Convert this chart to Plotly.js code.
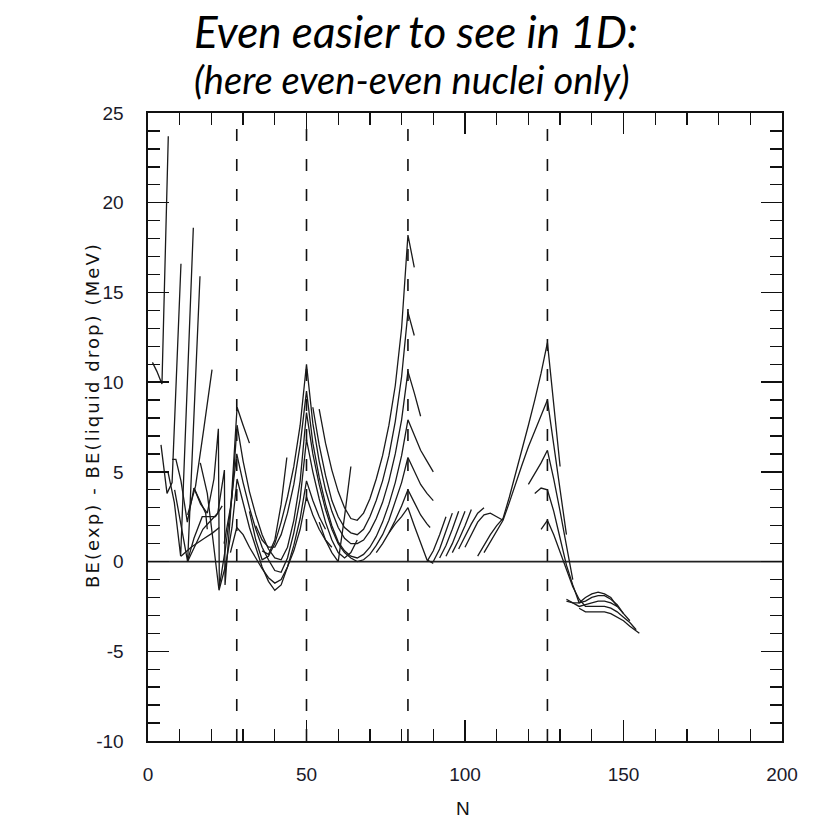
<!DOCTYPE html>
<html><head><meta charset="utf-8">
<script src="https://cdn.plot.ly/plotly-3.0.1.min.js"></script>
<style>body{margin:0;background:#fff}#chart{width:818px;height:824px}</style>
</head><body><div id="chart"></div>
<script>
// Magic numbers (dashed lines) and axis ticks
const magicN = [28, 50, 82, 126];
const xTickVals = [0, 50, 100, 150, 200];
const xTickText = ['0', '50', '100', '150', '200'];
const yTickVals = [-10, -5, 0, 5, 10, 15, 20, 25];
const yTickText = ['-10', '-5', '0', '5', '10', '15', '20', '25'];

// Light nuclei chains
const c01N = [1.4, 2.8, 4.4, 6.4];           const c01BE = [11.1, 10.6, 9.9, 23.7];
const c02N = [4.1, 6.0, 7.6, 10.4];          const c02BE = [6.5, 3.8, 4.4, 16.6];
const c03N = [6.3, 8.3, 10.3, 14.3];         const c03BE = [5.0, 3.3, 0.3, 18.6];
const c04N = [8.4, 10.4, 12.5, 16.4];        const c04BE = [4.0, 2.0, 0.0, 15.9];
const c05N = [10.4, 13.6, 17.8, 20.4, 22.5]; const c05BE = [0.3, 0.8, 1.3, 1.6, 1.9];
const c07N = [12.5, 15.0, 17.6, 20.2];       const c07BE = [2.6, 4.2, 7.4, 10.7];
const x1N = [7.6, 8.8, 10.4, 12.4, 14.5, 16.5, 18.2, 18.7]; const x1BE = [5.7, 5.7, 4.5, 2.2, 4.1, 3.3, 2.7, 1.8];
const x2N = [12.4, 14.5, 17.1, 19.2, 21.3, 23.4];           const x2BE = [0.0, 1.3, 2.5, 2.5, 2.5, 3.1];

// N = 20..50 region
const a1N = [12.5, 14.6, 17.3, 19.9, 22.0, 24.1, 24.3, 26.0, 28.1, 30.0, 32.0];
const a1BE = [0.0, 0.8, 1.8, 2.3, 2.7, 5.1, -1.3, 2.6, 8.6, 7.6, 6.6];
const a2N = [14.5, 16.6, 18.7, 20.8, 22.2, 22.5, 24.5, 26.5, 28.1, 30, 32, 34, 36, 38, 40, 42, 44, 46, 48, 50,
             52, 54, 56, 58, 60, 62, 64, 66, 68, 70, 72, 74, 76, 78, 80, 82, 84, 86, 88, 90];
const a2BE = [4.1, 3.2, 2.7, 4.6, 7.4, -1.4, 0.8, 3.6, 7.6, 5.6, 3.9, 2.6, 1.5, 0.7, 0.2, 0.1, 0.8, 2.3, 4.5, 8.3,
              6.0, 4.3, 2.9, 1.8, 1.0, 0.5, 0.2, 0.0, 0.1, 0.4, 0.9, 1.5, 2.3, 3.3, 4.4, 5.8, 5.0, 4.3, 3.8, 3.4];
const a3N = [16.5, 18.7, 20.5, 22.4, 24.5, 26.5, 28.1, 30, 32, 34, 36, 38, 40, 42, 44, 46, 48, 50, 52, 54, 56];
const a3BE = [5.5, 3.8, 1.2, -1.6, -0.2, 1.9, 4.6, 3.3, 1.9, 0.8, -0.3, -1.1, -1.6, -1.3, -0.3, 0.9, 2.4, 4.5, 3.4, 2.5, 1.8];
const a4N = [26, 28, 30, 32, 34, 36, 38, 40, 42, 44, 46, 48, 50, 52, 54, 56, 58];
const a4BE = [0.5, 1.9, 1.5, 0.8, 0.2, -0.4, -0.9, -1.2, -1.0, -0.3, 0.6, 1.8, 3.6, 2.6, 1.8, 1.2, 0.8];
const a5N = [24, 26, 28, 30, 32, 34, 36, 38, 40, 42, 44, 46, 48, 50, 52, 54, 56, 58, 60, 62, 64, 66];
const a5BE = [1.0, 3.0, 6.0, 4.4, 3.0, 1.8, 0.8, 0.1, -0.5, -0.6, 0.2, 1.6, 3.5, 6.8, 5.0, 3.5, 2.2, 1.2, 0.5, 0.2, 0.5, 1.2];
const a7N = [36, 38, 40, 42, 43.8];          const a7BE = [0.6, 0.4, 1.2, 3.2, 5.8];
const n1N = [54, 56, 58, 60, 62, 64];        const n1BE = [2.2, 1.2, 0.5, 0.0, 2.5, 5.3];

// N = 50..90 region (chains rising to N = 82)
const s1N = [54, 56, 58, 60, 62, 64, 66, 68, 70, 72, 74, 76, 78, 80, 82, 84];
const s1BE = [8.5, 6.6, 5.1, 3.9, 3.0, 2.4, 2.3, 2.7, 3.5, 4.6, 5.9, 7.6, 9.8, 13.0, 18.2, 16.4];
const s2N = [52, 54, 56, 58, 60, 62, 64, 66, 68, 70, 72, 74, 76, 78, 80, 82, 84];
const s2BE = [8.6, 6.5, 4.8, 3.4, 2.5, 1.9, 1.6, 1.5, 1.8, 2.5, 3.4, 4.5, 5.9, 7.8, 10.3, 13.9, 12.6];
const s3N = [32, 34, 36, 38, 40, 42, 44, 46, 48, 50, 52, 54, 56, 58, 60, 62, 64, 66, 68, 70, 72, 74, 76, 78, 80, 82, 84, 86];
const s3BE = [2.8, 1.2, 0.1, 0.3, 1.0, 2.2, 3.6, 5.3, 7.6, 11.0, 7.7, 5.6, 4.0, 2.8, 1.9, 1.3, 1.0, 1.0, 1.2, 1.7, 2.4, 3.3, 4.5, 6.0, 7.9, 10.6, 9.4, 8.1];
const s4N = [34, 36, 38, 40, 42, 44, 46, 48, 50, 52, 54, 56, 58, 60, 62, 64, 66, 68, 70, 72, 74, 76, 78, 80, 82, 84, 86, 88, 90];
const s4BE = [2.0, 1.2, 0.8, 0.8, 1.5, 2.7, 4.3, 6.5, 9.5, 6.6, 4.7, 3.2, 2.0, 1.1, 0.6, 0.3, 0.2, 0.4, 0.8, 1.4, 2.2, 3.2, 4.4, 5.9, 7.9, 7.0, 6.2, 5.6, 5.0];
const s6N = [72, 74, 76, 78, 80, 82, 84, 86, 88, 89];
const s6BE = [0.5, 1.0, 1.6, 2.3, 3.1, 4.0, 3.3, 2.6, 2.1, 1.9];
const s7N = [76, 78, 80, 82, 84, 86, 88, 90];
const s7BE = [1.6, 2.1, 2.5, 3.0, 2.0, 1.0, 0.1, -0.1];

// Ladder N = 88..112
const r1N = [88, 90, 92, 94];        const r1BE = [0.0, 0.6, 1.5, 2.5];
const r2N = [90, 92, 94, 96];        const r2BE = [0.0, 0.7, 1.7, 2.7];
const r3N = [92, 94, 96, 98];        const r3BE = [0.2, 0.9, 1.8, 2.8];
const r4N = [94, 96, 98, 100];       const r4BE = [0.3, 1.0, 1.9, 2.8];
const r5N = [96, 98, 100, 102];      const r5BE = [0.5, 1.2, 2.0, 2.9];
const r6N = [98, 100, 102, 104, 106]; const r6BE = [0.7, 1.4, 2.1, 2.7, 3.0];
const r7N = [100, 102, 104, 106, 108, 110, 112]; const r7BE = [0.8, 1.5, 2.2, 2.6, 2.7, 2.5, 2.3];

// Chains rising to N = 126
const p1N = [104, 106, 108, 110, 112, 114, 116, 118, 120, 122, 124, 126, 128, 130];
const p1BE = [0.3, 0.9, 1.5, 2.0, 2.4, 3.6, 4.9, 6.3, 7.6, 9.0, 10.5, 12.2, 8.6, 5.3];
const p2N = [106, 108, 110, 112, 114, 116, 118, 120, 122, 124, 126, 128, 130, 132];
const p2BE = [0.5, 1.1, 1.7, 2.3, 3.3, 4.4, 5.4, 6.4, 7.3, 8.2, 9.0, 6.5, 4.0, 1.5];
const p3N = [120, 122, 124, 126, 128, 130, 132, 134];
const p3BE = [4.3, 4.9, 5.5, 6.2, 4.6, 2.8, 0.9, -1.0];
const p4N = [122, 124, 126, 128, 130, 132, 134, 136, 138, 140, 142, 144, 146, 148, 150];
const p4BE = [3.8, 4.1, 4.0, 2.8, 1.3, -0.2, -1.3, -2.3, -2.2, -2.0, -1.9, -1.9, -2.1, -2.4, -2.9];
const p5N = [124, 126, 128, 130, 132, 134, 136, 138, 140, 142, 144, 146, 148, 150, 152, 154];
const p5BE = [1.8, 2.3, 1.5, 0.5, -0.5, -1.4, -2.1, -2.5, -2.5, -2.5, -2.5, -2.6, -2.8, -3.1, -3.4, -3.8];
const k1N = [132, 134, 136, 138, 140, 142, 144, 146, 148];
const k1BE = [-2.2, -2.3, -2.3, -2.0, -1.8, -1.7, -1.8, -2.0, -2.5];
const k2N = [132, 134, 136, 138, 140, 142, 144, 146, 148, 150, 152];
const k2BE = [-2.1, -2.3, -2.5, -2.4, -2.3, -2.2, -2.2, -2.3, -2.5, -2.9, -3.3];
const k3N = [136, 138, 140, 142, 144, 146, 148, 150, 152, 154, 155];
const k3BE = [-2.6, -2.8, -2.8, -2.8, -2.8, -2.9, -3.1, -3.3, -3.6, -3.9, -4.0];

const chains = [
  [c01N, c01BE], [c02N, c02BE], [c03N, c03BE], [c04N, c04BE], [c05N, c05BE], [c07N, c07BE],
  [x1N, x1BE], [x2N, x2BE],
  [a1N, a1BE], [a2N, a2BE], [a3N, a3BE], [a4N, a4BE], [a5N, a5BE], [a7N, a7BE], [n1N, n1BE],
  [s1N, s1BE], [s2N, s2BE], [s3N, s3BE], [s4N, s4BE], [s6N, s6BE], [s7N, s7BE],
  [r1N, r1BE], [r2N, r2BE], [r3N, r3BE], [r4N, r4BE], [r5N, r5BE], [r6N, r6BE], [r7N, r7BE],
  [p1N, p1BE], [p2N, p2BE], [p3N, p3BE], [p4N, p4BE], [p5N, p5BE],
  [k1N, k1BE], [k2N, k2BE], [k3N, k3BE]
];

const traces = chains.map(([xs, ys]) => ({
  type: 'scatter', mode: 'lines', x: xs, y: ys,
  line: {color: '#1a1a1a', width: 1.3}, hoverinfo: 'skip', showlegend: false
}));

const shapes = magicN.map(n => ({
  type: 'line', xref: 'x', yref: 'y', x0: n, x1: n, y0: -10, y1: 25,
  line: {color: '#111', width: 1.6, dash: '12px,18px'}, layer: 'below'
}));
shapes.push({type: 'line', xref: 'paper', yref: 'y', x0: 0, x1: 1, y0: 0, y1: 0,
  line: {color: '#222', width: 1.8}, layer: 'below'});

const sans = 'Liberation Sans, Arial, sans-serif';
const axisFont = {family: sans, size: 19, color: '#1a1a2a'};

const layout = {
  width: 818, height: 824,
  margin: {l: 148, r: 36, t: 113, b: 83},
  paper_bgcolor: '#fff', plot_bgcolor: '#fff',
  showlegend: false,
  xaxis: {
    range: [0, 200], tickvals: xTickVals, ticktext: xTickText, ticks: 'inside', ticklen: 21, tickwidth: 1.4, tickcolor: '#111',
    showline: true, linecolor: '#111', linewidth: 1.6, mirror: 'allticks', ticklabelstandoff: 16,
    showgrid: false, zeroline: false, tickfont: axisFont,
    minor: {dtick: 10, ticks: 'inside', ticklen: 12, tickwidth: 1.4, tickcolor: '#111', showgrid: false}
  },
  yaxis: {
    range: [-10, 25], tickvals: yTickVals, ticktext: yTickText, ticks: 'inside', ticklen: 21, tickwidth: 1.4, tickcolor: '#111',
    showline: true, linecolor: '#111', linewidth: 1.6, mirror: 'allticks', ticklabelstandoff: 19,
    showgrid: false, zeroline: false, tickfont: axisFont,
    minor: {dtick: 1, ticks: 'inside', ticklen: 12, tickwidth: 1.4, tickcolor: '#111', showgrid: false}
  },
  shapes: shapes,
  annotations: [
    {text: '<i>Even easier to see in 1D:</i>', xref: 'paper', yref: 'paper', x: 0.422, y: 1.131,
     xanchor: 'center', yanchor: 'middle', showarrow: false,
     font: {family: 'Lato, Open Sans, sans-serif', size: 44, color: '#000'}},
    {text: '<i>(here even-even nuclei only)</i>', xref: 'paper', yref: 'paper', x: 0.416, y: 1.054,
     xanchor: 'center', yanchor: 'middle', showarrow: false,
     font: {family: 'Lato, Open Sans, sans-serif', size: 38, color: '#000'}},
    {text: '<span style="letter-spacing:2.1px">BE(exp) - BE(liquid drop) (MeV)</span>', xref: 'paper', yref: 'paper', x: -0.0885, y: 0.519,
     xanchor: 'center', yanchor: 'middle', showarrow: false, textangle: -90,
     font: {family: 'DejaVu Sans, sans-serif', size: 18, color: '#111'}},
    {text: 'N', xref: 'paper', yref: 'paper', x: 0.497, y: -0.1067,
     xanchor: 'center', yanchor: 'middle', showarrow: false,
     font: {family: sans, size: 19, color: '#111'}}
  ]
};

Plotly.newPlot('chart', traces, layout, {displayModeBar: false, staticPlot: true});
</script></body></html>
